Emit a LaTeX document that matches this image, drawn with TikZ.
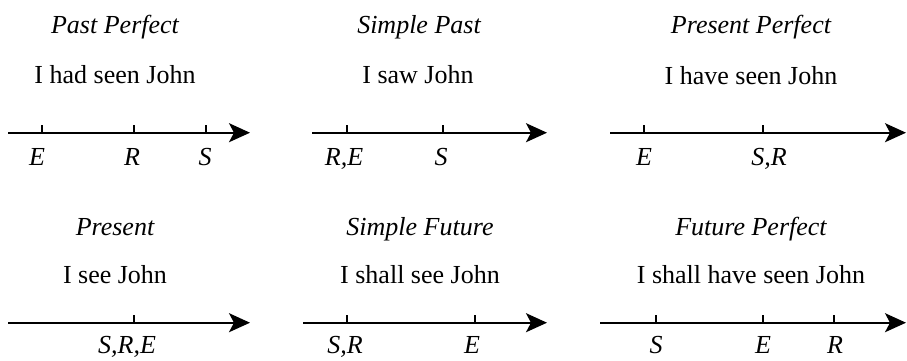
\documentclass[tikz,border=0pt]{standalone}
\usepackage{fontspec}
\setmainfont{Liberation Serif}
\usetikzlibrary{arrows.meta}

\tikzset{
  timeline/.style={line width=1.7pt, -{Stealth[length=21pt, width=19pt, inset=5pt]}},
  tickmark/.style={line width=1.2pt},
  tense/.style={anchor=base, inner sep=0pt, font=\fontsize{26}{30}\selectfont\itshape},
  sentence/.style={anchor=base, inner sep=0pt, font=\fontsize{26}{30}\selectfont},
  point/.style={anchor=base, inner sep=0pt, font=\fontsize{26}{30}\selectfont\itshape},
}

\begin{document}
\begin{tikzpicture}[x=1pt, y=-1pt]
  \useasboundingbox (0,0) rectangle (907,360);
  % top row
  \begin{scope}
    \node[tense] (pastperf) at (115,33) {Past Perfect};
    \node[sentence] (hadseen) at (115,83) {I had seen John};
    \coordinate (l1a) at (8,132.7);
    \coordinate (l1b) at (250,132.7);
    \draw[timeline] (l1a) -- (l1b);
    \foreach \x in {42,134,206} \draw[tickmark] (\x,132.7) -- (\x,124.5);
    \node[point] (e1) at (37,165) {E};
    \node[point] (r1) at (132,165) {R};
    \node[point] (s1) at (205,165) {S};

    \node[tense] (simppast) at (419,33) {Simple Past};
    \node[sentence] (saw) at (418,83) {I saw John};
    \coordinate (l2a) at (312,132.7);
    \coordinate (l2b) at (547,132.7);
    \draw[timeline] (l2a) -- (l2b);
    \foreach \x in {347,443} \draw[tickmark] (\x,132.7) -- (\x,124.5);
    \node[point] (re2) at (344,165) {R,E};
    \node[point] (s2) at (441,165) {S};

    \node[tense] (presperf) at (751,33) {Present Perfect};
    \node[sentence] (haveseen) at (751,84) {I have seen John};
    \coordinate (l3a) at (610,132.7);
    \coordinate (l3b) at (906,132.7);
    \draw[timeline] (l3a) -- (l3b);
    \foreach \x in {644,763} \draw[tickmark] (\x,132.7) -- (\x,124.5);
    \node[point] (e3) at (644,165) {E};
    \node[point] (sr3) at (769,165) {S,R};
  \end{scope}
  % bottom row
  \begin{scope}
    \node[tense] (present) at (115,235) {Present};
    \node[sentence] (see) at (115,283) {I see John};
    \coordinate (l4a) at (8,322.7);
    \coordinate (l4b) at (250,322.7);
    \draw[timeline] (l4a) -- (l4b);
    \draw[tickmark] (134,322.7) -- (134,314.5);
    \node[point] (sre4) at (127,353) {S,R,E};

    \node[tense] (simpfut) at (420,235) {Simple Future};
    \node[sentence] (shallsee) at (420,283) {I shall see John};
    \coordinate (l5a) at (303,322.7);
    \coordinate (l5b) at (547,322.7);
    \draw[timeline] (l5a) -- (l5b);
    \foreach \x in {347,475} \draw[tickmark] (\x,322.7) -- (\x,314.5);
    \node[point] (sr5) at (345,353) {S,R};
    \node[point] (e5) at (472,353) {E};

    \node[tense] (futperf) at (751,235) {Future Perfect};
    \node[sentence] (shallhave) at (751,283) {I shall have seen John};
    \coordinate (l6a) at (600,322.7);
    \coordinate (l6b) at (906,322.7);
    \draw[timeline] (l6a) -- (l6b);
    \foreach \x in {656,763,834} \draw[tickmark] (\x,322.7) -- (\x,314.5);
    \node[point] (s6) at (656,353) {S};
    \node[point] (e6) at (763,353) {E};
    \node[point] (r6) at (835,353) {R};
  \end{scope}
\end{tikzpicture}
\end{document}
